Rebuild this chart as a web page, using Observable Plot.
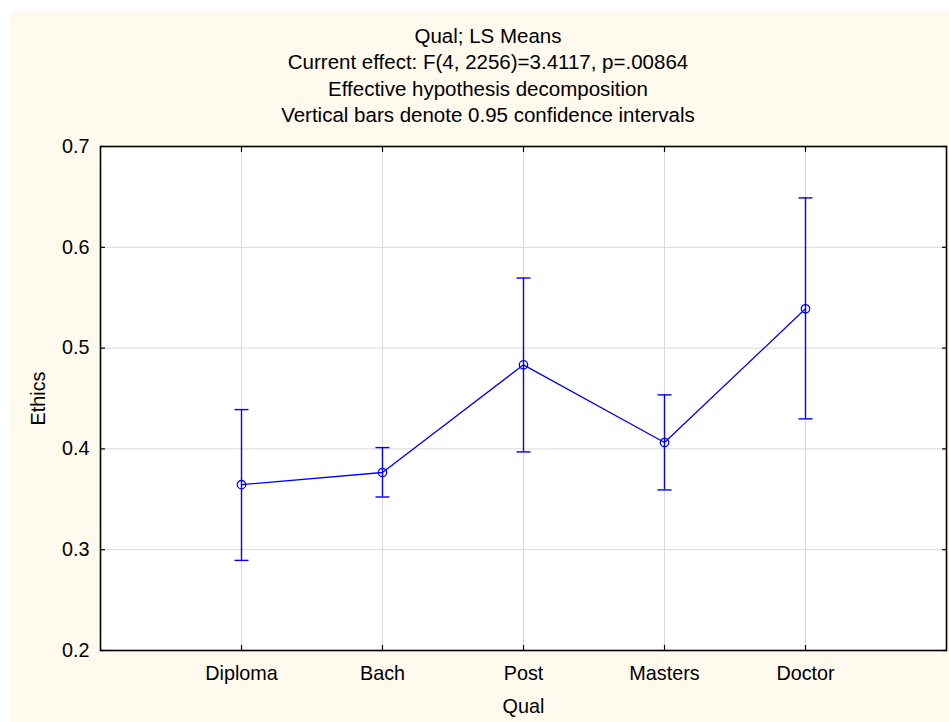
<!DOCTYPE html>
<html>
<head>
<meta charset="utf-8">
<script src="https://cdn.jsdelivr.net/npm/d3@7"></script>
<script src="https://cdn.jsdelivr.net/npm/@observablehq/plot@0.6"></script>
<style>
  html, body { margin: 0; padding: 0; background: #ffffff; }
  #page { position: relative; width: 949px; height: 722px; overflow: hidden; font-family: "Liberation Sans", Arial, sans-serif; }
  #cream { position: absolute; left: 11px; top: 11px; right: 0; bottom: 0; background: #FFF9EE; }
  #title { position: absolute; left: 238px; width: 500px; top: 23px; text-align: center; font-size: 20.5px; line-height: 26.3px; color: #000; white-space: nowrap; }
  #chart { position: absolute; left: 0; top: 130px; }
</style>
</head>
<body>
<div id="page">
  <div id="cream"></div>
  <div id="title">
    <div>Qual; LS Means</div>
    <div>Current effect: F(4, 2256)=3.4117, p=.00864</div>
    <div>Effective hypothesis decomposition</div>
    <div>Vertical bars denote 0.95 confidence intervals</div>
  </div>
  <div id="chart"></div>
</div>
<script>
const quals = ["Diploma", "Bach", "Post", "Masters", "Doctor"];
const means = [0.3645, 0.3766, 0.4834, 0.4063, 0.539];
const lower = [0.2894, 0.3523, 0.397, 0.3593, 0.4298];
const upper = [0.439, 0.4013, 0.5695, 0.4536, 0.649];
const yTicks = [0.2, 0.3, 0.4, 0.5, 0.6, 0.7];

const data = quals.map((q, i) => ({qual: q, mean: means[i], lo: lower[i], hi: upper[i]}));

const cap = {draw(context) { context.moveTo(-7, 0); context.lineTo(7, 0); }};
const blue = "#0000FF";
const noText = () => "";

const plot = Plot.plot({
  width: 949,
  height: 592,
  marginLeft: 100,
  marginRight: 3,
  marginTop: 16,
  marginBottom: 72,
  style: {background: "transparent", fontFamily: "'Liberation Sans', Arial, sans-serif", fontSize: "19.8px", color: "#000", overflow: "visible"},
  x: {type: "point", domain: quals, padding: 1},
  y: {domain: [0.2, 0.7], ticks: yTicks},
  marks: [
    Plot.frame({fill: "white", stroke: null}),
    Plot.gridY(yTicks, {stroke: "#d8d8d8", strokeOpacity: 1, strokeWidth: 1}),
    Plot.gridX(quals, {stroke: "#d8d8d8", strokeOpacity: 1, strokeWidth: 1}),
    Plot.axisY(yTicks, {anchor: "left", tickSize: 0, tickPadding: 11, tickFormat: d3.format(".1f"), label: "Ethics", labelArrow: "none", labelAnchor: "center", labelOffset: 70}),
    Plot.axisX(quals, {anchor: "bottom", tickSize: 0, tickPadding: 15, label: "Qual", labelArrow: "none", labelAnchor: "center", labelOffset: 62}),
    Plot.axisY(yTicks, {anchor: "left", tickSize: 5, dx: 5, tickFormat: noText, label: null, stroke: "#000", strokeWidth: 1.2}),
    Plot.axisY(yTicks, {anchor: "right", tickSize: 5, dx: -5, tickFormat: noText, label: null, stroke: "#000", strokeWidth: 1.2}),
    Plot.axisX(quals, {anchor: "bottom", tickSize: 5, dy: -5, tickFormat: noText, label: null, stroke: "#000", strokeWidth: 1.2}),
    Plot.axisX(quals, {anchor: "top", tickSize: 5, dy: 5, tickFormat: noText, label: null, stroke: "#000", strokeWidth: 1.2}),
    Plot.frame({stroke: "#000", strokeWidth: 1.6}),
    Plot.ruleX(data, {x: "qual", y1: "lo", y2: "hi", stroke: blue, strokeWidth: 1.4}),
    Plot.dot(data, {x: "qual", y: "lo", symbol: cap, r: 7, stroke: blue, strokeWidth: 1.4, fill: "none"}),
    Plot.dot(data, {x: "qual", y: "hi", symbol: cap, r: 7, stroke: blue, strokeWidth: 1.4, fill: "none"}),
    Plot.line(data, {x: "qual", y: "mean", stroke: blue, strokeWidth: 1.3}),
    Plot.dot(data, {x: "qual", y: "mean", r: 4.2, stroke: blue, strokeWidth: 1.3, fill: "none"})
  ]
});
document.getElementById("chart").appendChild(plot);
</script>
</body>
</html>
